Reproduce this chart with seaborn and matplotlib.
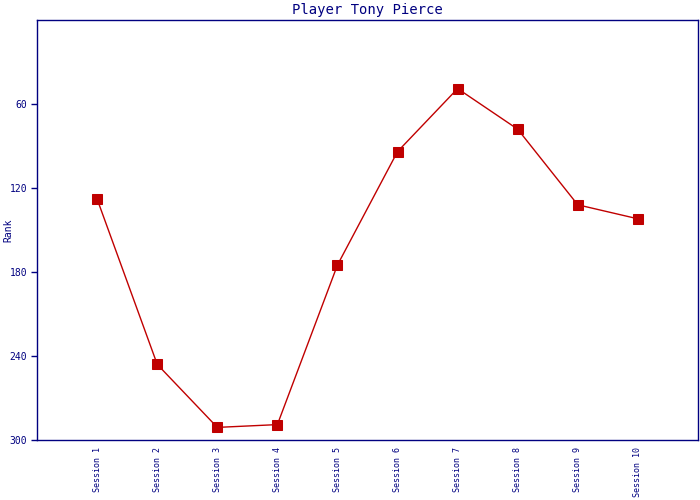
import matplotlib
matplotlib.use("Agg")
import seaborn as sns
import matplotlib.pyplot as plt
import pandas as pd

sessions = ["Session 1", "Session 2", "Session 3", "Session 4", "Session 5",
            "Session 6", "Session 7", "Session 8", "Session 9", "Session 10"]
ranks = [128, 246, 291, 289, 175, 94, 49, 78, 132, 142]
y_ticks = [60, 120, 180, 240, 300]

navy = "#000080"
red = "#C00000"

sns.set_style("white")
plt.rcParams["font.family"] = ["DejaVu Sans Mono"]

df = pd.DataFrame({"pos": range(1, len(sessions) + 1), "rank": ranks})

fig = plt.figure(figsize=(7, 5), dpi=100)
ax = fig.add_axes([0.053, 0.12, 0.944, 0.84])

sns.lineplot(data=df, x="pos", y="rank", ax=ax, color=red, linewidth=1.0,
             marker="s", markersize=7, markeredgecolor=red, markerfacecolor=red)

ax.set_xlim(0, 11)
ax.set_ylim(300, 0)
ax.set_xticks(df["pos"])
ax.set_xticklabels(sessions, rotation=90, fontsize=6, color=navy)
ax.set_yticks(y_ticks)
ax.set_yticklabels([str(t) for t in y_ticks], fontsize=7, color=navy)
ax.tick_params(axis="y", length=4, width=1, color=navy, left=True, pad=3)
ax.tick_params(axis="x", length=0, pad=5)

for s in ax.spines.values():
    s.set_color(navy)
    s.set_linewidth(1)

ax.set_xlabel("")
ax.set_ylabel("Rank", fontsize=7, color=navy)
ax.yaxis.set_label_coords(-0.036, 0.5)
ax.set_title("Player Tony Pierce", fontsize=10, color=navy, pad=4)

fig.savefig("out.png", dpi=100)
